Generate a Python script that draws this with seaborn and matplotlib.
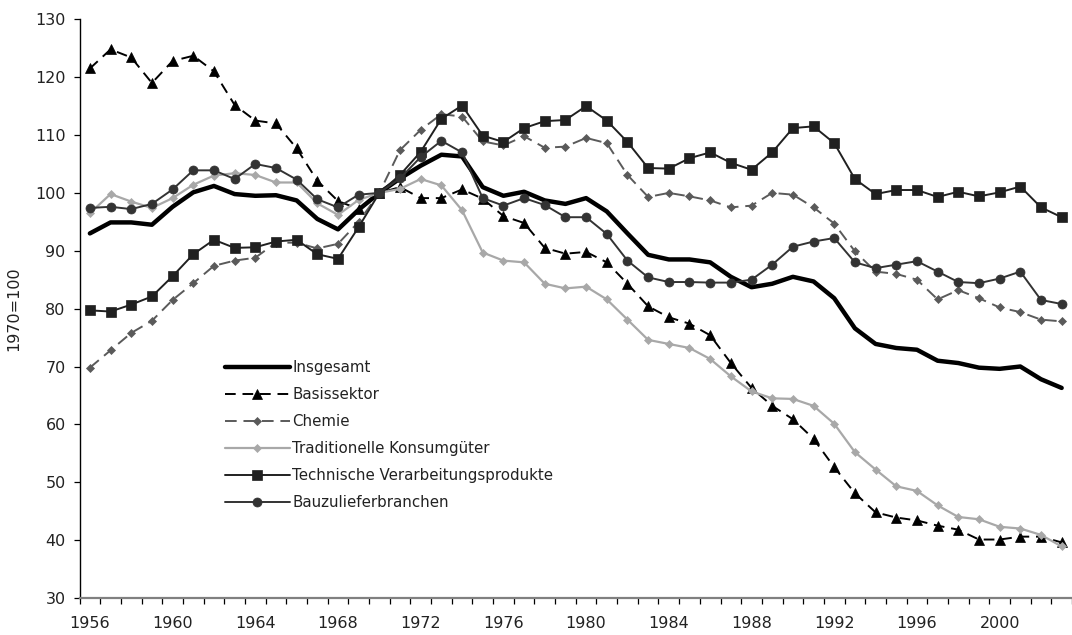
import matplotlib
matplotlib.use("Agg")
import matplotlib.pyplot as plt
import numpy as np
import pandas as pd
import seaborn as sns

# Jahre 1956-2003, Index 1970=100
jahre = list(range(1956, 2004))

insgesamt = [93.0, 94.9, 94.9, 94.5, 97.6, 100.1, 101.2, 99.8, 99.5, 99.6,
             98.7, 95.5, 93.7, 97.1, 100.0, 102.5, 104.7, 106.6, 106.3, 101.0,
             99.5, 100.2, 98.7, 98.1, 99.1, 96.8, 93.0, 89.3, 88.5, 88.5,
             88.0, 85.5, 83.7, 84.3, 85.5, 84.7, 81.8, 76.6, 73.9, 73.2,
             72.9, 71.0, 70.6, 69.8, 69.6, 70.0, 67.8, 66.3]

basissektor = [121.5, 124.8, 123.4, 119.0, 122.8, 123.7, 121.0, 115.2, 112.5, 112.0,
               107.7, 102.1, 98.6, 97.2, 100.0, 101.0, 99.1, 99.1, 100.6, 99.0,
               96.0, 94.8, 90.5, 89.5, 89.8, 88.0, 84.3, 80.4, 78.5, 77.4,
               75.4, 70.6, 66.3, 63.2, 60.9, 57.5, 52.6, 48.1, 44.8, 43.9,
               43.4, 42.5, 41.8, 40.1, 40.1, 40.6, 40.6, 39.6]

chemie = [69.8, 72.8, 75.8, 77.9, 81.5, 84.4, 87.4, 88.3, 88.8, 91.4,
          91.4, 90.4, 91.2, 95.0, 100.0, 107.4, 110.9, 113.6, 113.2, 108.9,
          108.2, 109.8, 107.8, 108.0, 109.5, 108.6, 103.1, 99.3, 100.0, 99.4,
          98.7, 97.5, 97.8, 100.0, 99.7, 97.5, 94.7, 89.9, 86.4, 86.0,
          85.0, 81.6, 83.2, 81.8, 80.2, 79.4, 78.1, 77.8]

traditionelle = [96.5, 99.8, 98.5, 97.4, 99.1, 101.4, 103.0, 103.4, 103.1, 101.8,
                 101.8, 98.2, 96.2, 98.8, 100.0, 100.7, 102.4, 101.3, 97.0, 89.7,
                 88.3, 88.0, 84.3, 83.5, 83.8, 81.6, 78.1, 74.6, 73.9, 73.2,
                 71.3, 68.3, 65.7, 64.5, 64.4, 63.2, 60.1, 55.2, 52.2, 49.3,
                 48.5, 46.0, 44.0, 43.6, 42.3, 42.0, 40.9, 38.9]

technische = [79.7, 79.5, 80.7, 82.1, 85.6, 89.4, 91.9, 90.5, 90.6, 91.6,
              91.9, 89.4, 88.6, 94.1, 100.0, 103.1, 107.1, 112.8, 115.1, 109.9,
              108.8, 111.2, 112.4, 112.6, 115.0, 112.5, 108.8, 104.3, 104.2, 106.0,
              107.0, 105.2, 104.0, 107.0, 111.2, 111.5, 108.6, 102.4, 99.8, 100.5,
              100.5, 99.3, 100.2, 99.4, 100.1, 101.1, 97.5, 95.8]

bau = [97.4, 97.6, 97.2, 98.1, 100.6, 103.9, 103.9, 102.4, 105.0, 104.3,
       102.3, 98.9, 97.5, 99.7, 100.0, 102.5, 106.2, 109.0, 107.0, 99.1,
       97.8, 99.1, 97.9, 95.8, 95.8, 92.9, 88.3, 85.4, 84.6, 84.6,
       84.5, 84.5, 85.0, 87.6, 90.7, 91.6, 92.2, 88.0, 87.0, 87.6,
       88.2, 86.4, 84.6, 84.4, 85.2, 86.4, 81.5, 80.8]

reihen = {
    "Insgesamt": insgesamt,
    "Basissektor": basissektor,
    "Chemie": chemie,
    "Traditionelle Konsumgüter": traditionelle,
    "Technische Verarbeitungsprodukte": technische,
    "Bauzulieferbranchen": bau,
}

stile = {
    "Insgesamt": dict(color="black", lw=3.2, linestyle="-", marker=None, ms=0),
    "Basissektor": dict(color="black", lw=1.4, linestyle=(0, (5.5, 3.5)), marker="^", ms=6.5),
    "Chemie": dict(color="#5a5a5a", lw=1.4, linestyle=(0, (6, 3.5)), marker="D", ms=4.5),
    "Traditionelle Konsumgüter": dict(color="#a8a8a8", lw=1.6, linestyle="-", marker="D", ms=4.5),
    "Technische Verarbeitungsprodukte": dict(color="#202020", lw=1.4, linestyle="-", marker="s", ms=6.5),
    "Bauzulieferbranchen": dict(color="#333333", lw=1.4, linestyle="-", marker="o", ms=6.5),
}

df = pd.DataFrame({"Jahr": jahre, **reihen}).melt(id_vars="Jahr", var_name="Reihe", value_name="Wert")

sns.set_style("white")
plt.rcParams["font.family"] = ["DejaVu Sans"]

fig = plt.figure(figsize=(10.72, 6.35), dpi=100)
ax = fig.add_axes([0.0742, 0.0583, 0.9258, 0.9113])

for name in reihen:
    s = stile[name]
    teil = df[df["Reihe"] == name]
    sns.lineplot(data=teil, x="Jahr", y="Wert", ax=ax, label=name, errorbar=None,
                 color=s["color"], lw=s["lw"], linestyle=s["linestyle"],
                 marker=s["marker"], markersize=s["ms"],
                 markeredgecolor=s["color"], markerfacecolor=s["color"], markeredgewidth=0.5)

ax.set_xlim(1955.5, 2003.28)
ax.set_ylim(30, 130)
ax.set_yticks(np.arange(30, 131, 10))
ax.set_xticks(range(1956, 2001, 4))
ax.set_xticks(np.arange(1955.5, 2004, 1), minor=True)
ax.tick_params(axis="x", which="major", length=0, pad=13, labelsize=11.5, colors="#222222")
ax.tick_params(axis="x", which="minor", length=4, direction="out", width=0.9, color="black",
               bottom=True)
ax.tick_params(axis="y", which="major", length=4, direction="out", width=0.9, pad=6,
               labelsize=11.5, colors="black", labelcolor="#222222", left=True)
ax.set_xlabel("")
ax.set_ylabel("1970=100", fontsize=11.5, color="#222222", labelpad=10)

for side in ["top", "right"]:
    ax.spines[side].set_visible(False)
ax.spines["left"].set_color("black")
ax.spines["left"].set_linewidth(1.0)
ax.spines["bottom"].set_color("#808080")
ax.spines["bottom"].set_linewidth(1.6)

leg = ax.legend(loc="upper left", bbox_to_anchor=(225 / 1072, 1 - 360 / 635),
                bbox_transform=fig.transFigure, frameon=False, fontsize=10.8,
                handlelength=4.3, handletextpad=0.2, labelspacing=0.8,
                borderpad=0, borderaxespad=0, numpoints=1)
for t in leg.get_texts():
    t.set_color("#222222")

fig.savefig("out.png", dpi=100)
